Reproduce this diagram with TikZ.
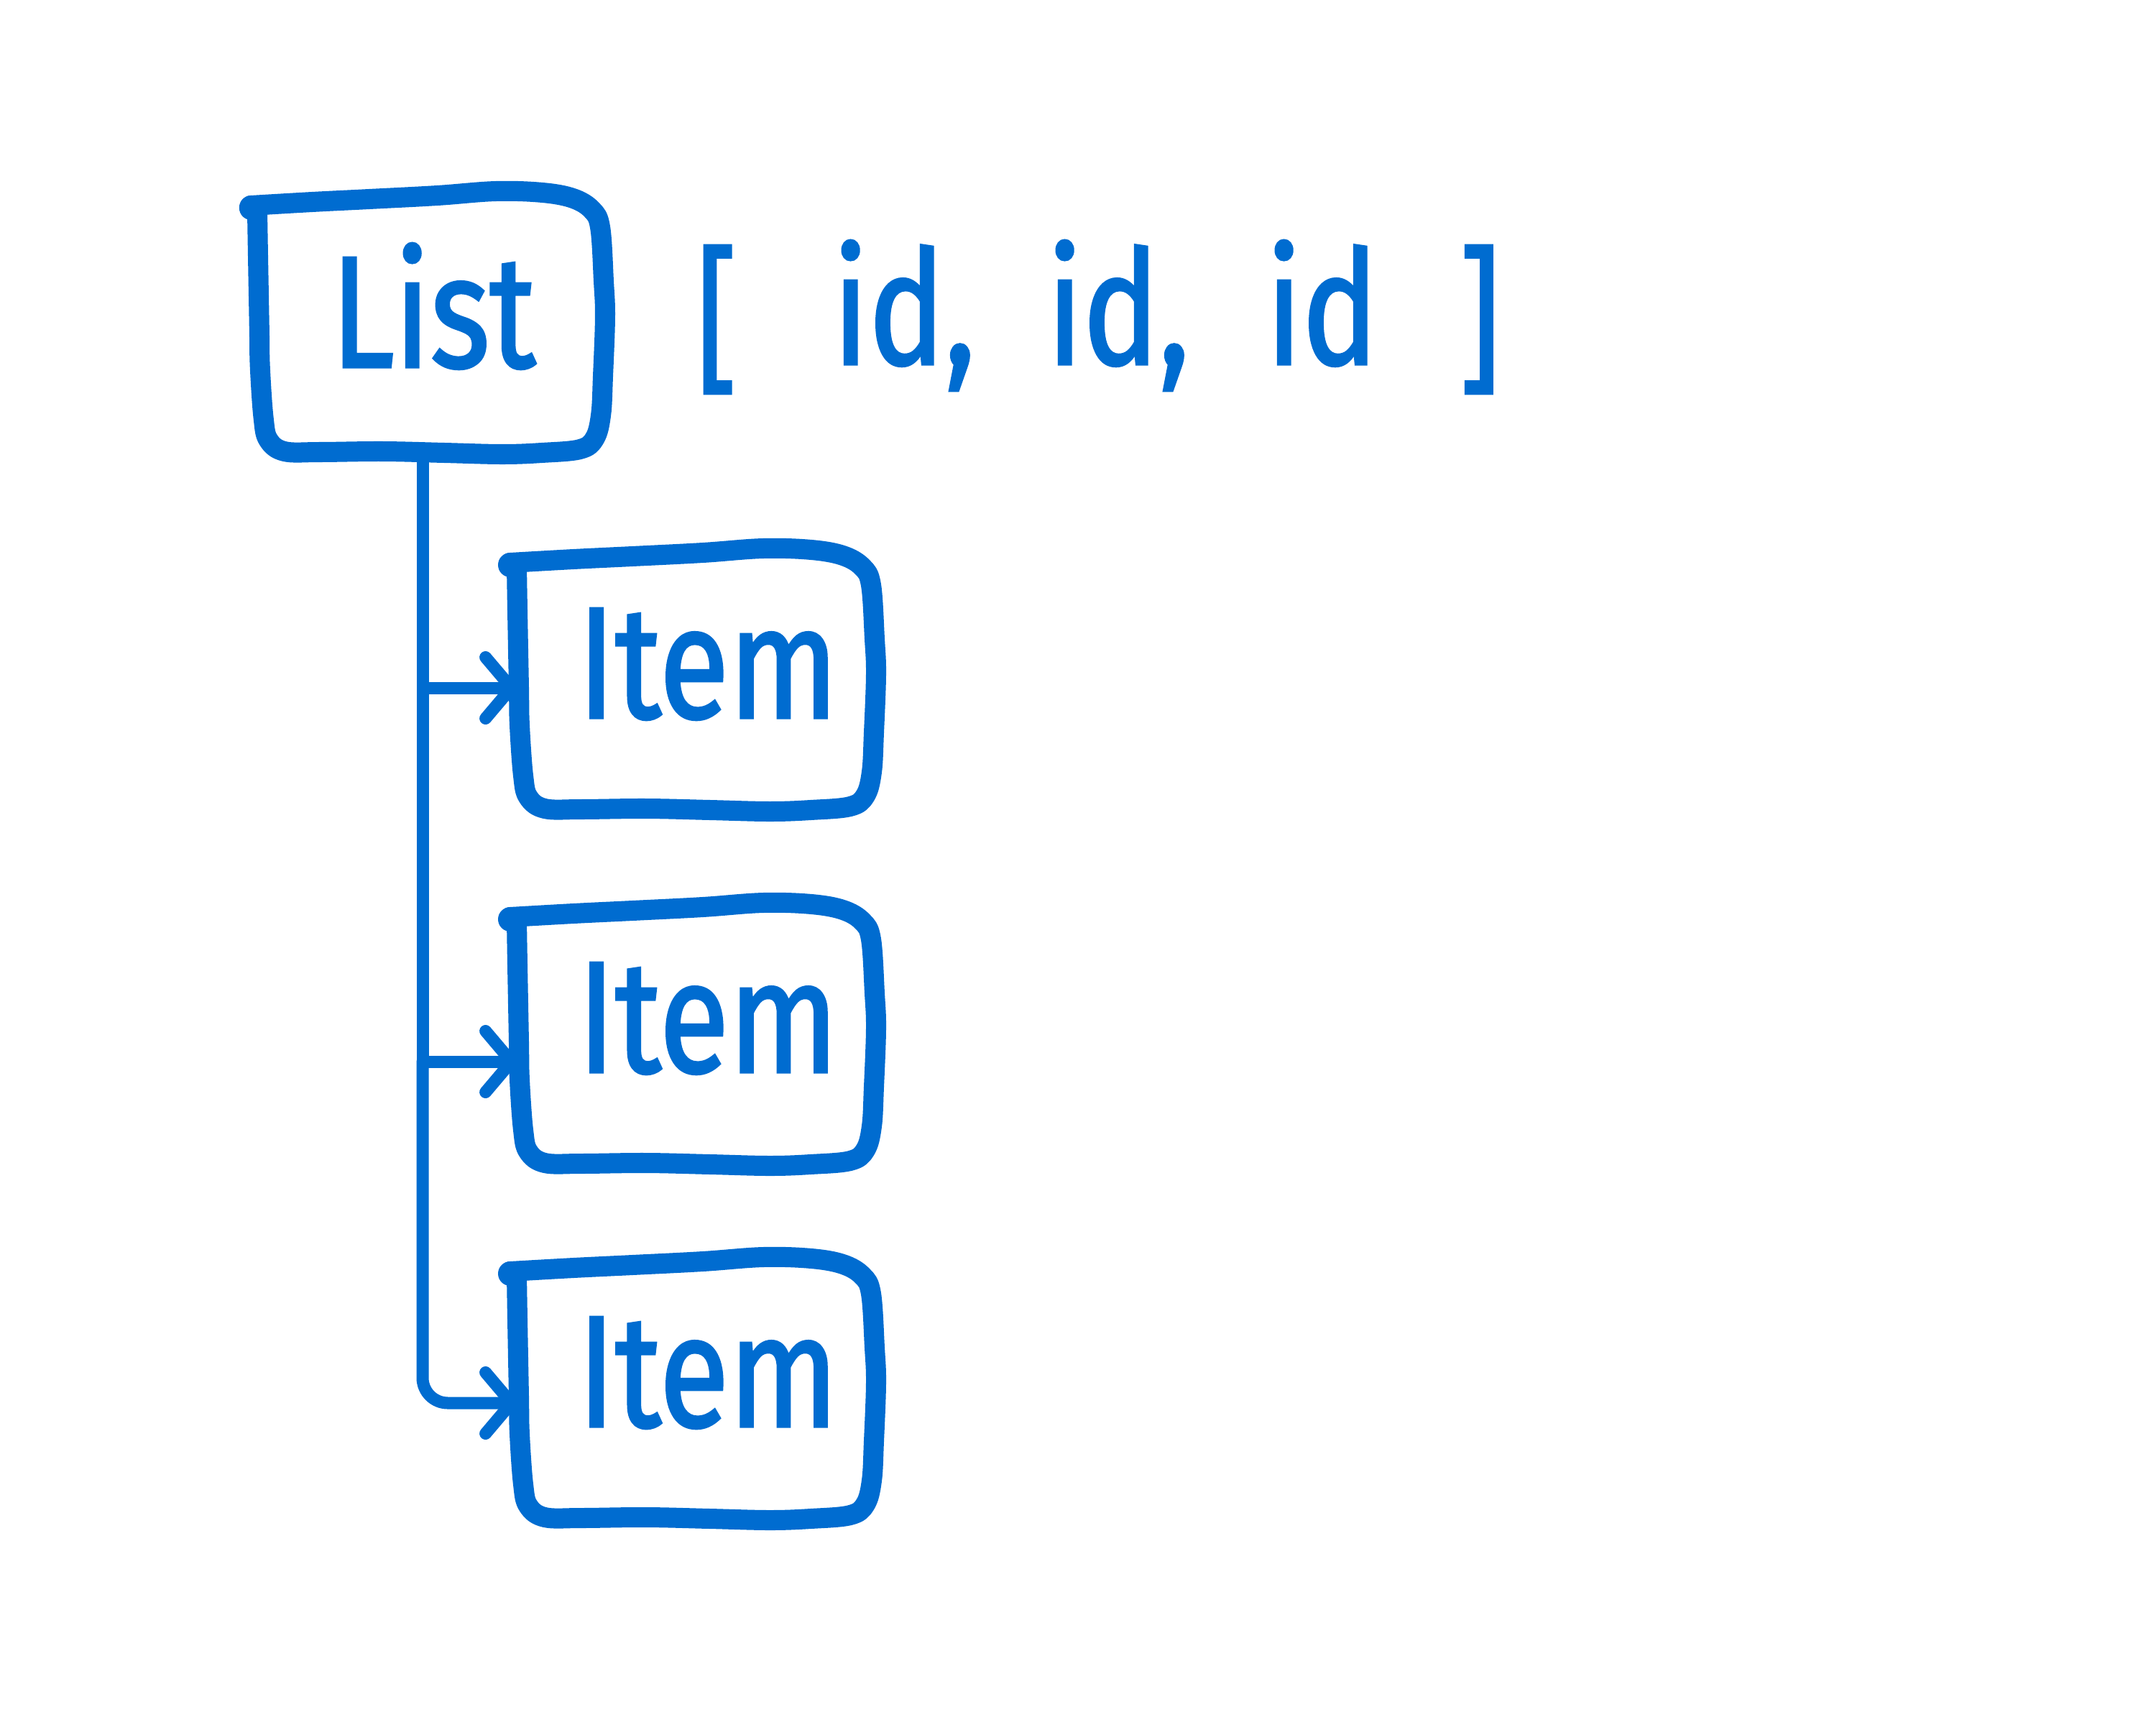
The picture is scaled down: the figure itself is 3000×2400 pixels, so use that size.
\documentclass[tikz,border=0pt]{standalone}
\usepackage{fontspec}
\newfontfamily\hand{Fira Sans}[FakeStretch=0.8,FakeBold=1.5]
\usetikzlibrary{arrows.meta,calc}
\definecolor{ink}{HTML}{006CD0}
\newcommand\sketchoutline[2][1]{%
  \begin{scope}[shift={(#2.center)},xscale=#1]
    \fill[ink] (-258,-163) circle[radius=0.17cm];
    \draw[ink,boxline] plot[smooth,tension=0.6] coordinates {(-258,-166) (-170,-171) (-88,-175) (10,-180) (94,-186) (161,-184) (205,-176) (232,-160) (244,-135) (249,-60) (251,-11) (248,70) (245,125) (236,158) (215,173) (160,178) (103,180) (20,178) (-69,176) (-160,177) (-210,176) (-233,160) (-240,130) (-245,60) (-246,8) (-248,-100) (-249,-160)};
  \end{scope}}
\begin{document}
\begin{tikzpicture}[x=0.01cm,y=-0.01cm,
  boxline/.style={line width=0.28cm,line cap=round,line join=round},
  conn/.style={line width=0.17cm,line cap=round,line join=round},
  arr/.style={-{Straight Barb[length=0.36cm,width=0.85cm,round]}},
  boxnode/.style={minimum width=4.94cm,minimum height=3.5cm,inner sep=0pt},
  txt/.style={text=ink,font=\hand\fontsize{63pt}{70pt}\selectfont,inner sep=0pt,anchor=base},
  tok/.style={txt,anchor=base west}
]
\fill[white] (0,0) rectangle (3000,2400);
\path[use as bounding box] (0,0) rectangle (3000,2400);
\draw[white,line width=0.17cm] (1500,2300) -- (2800,2300);

% boxes
\node[boxnode] (list)  at (599,452)  {};
\node[boxnode] (item1) at (968,949)  {};
\node[boxnode] (item2) at (968,1442) {};
\node[boxnode] (item3) at (968,1935) {};
\sketchoutline[0.968]{list}
\sketchoutline{item1}
\sketchoutline{item2}
\sketchoutline{item3}

% labels
\node[txt] (listtxt)  at ($(list.center)+(4,59)$)   {List};
\node[txt] (itemtxt1) at ($(item1.center)+(17,50)$) {Item};
\node[txt] (itemtxt2) at ($(item2.center)+(17,50)$) {Item};
\node[txt] (itemtxt3) at ($(item3.center)+(17,50)$) {Item};

% [ id, id, id ]
\node[tok] (lbr) at (968,522)  {[};
\node[tok] (id1) at (1158,507) {id,};
\node[tok] (id2) at (1456,507) {id,};
\node[tok] (id3) at (1761,507) {id};
\node[tok] (rbr) at (2030,522) {]};

% connectors
\coordinate (trunk) at (588,641);
\coordinate (b1) at ($(item1.west)+(0,8)$);
\coordinate (b2) at ($(item2.west)+(0,35)$);
\coordinate (b3) at ($(item3.west)+(0,17)$);
\coordinate (t1) at (b1 -| trunk);
\coordinate (t2) at (b2 -| trunk);
\draw[ink,conn,arr] (list.south -| trunk) |- (b1);
\draw[ink,conn,arr] (t1) |- (b2);
\draw[ink,conn,arr,rounded corners=0.35cm] (t2) |- (b3);
\end{tikzpicture}
\end{document}
